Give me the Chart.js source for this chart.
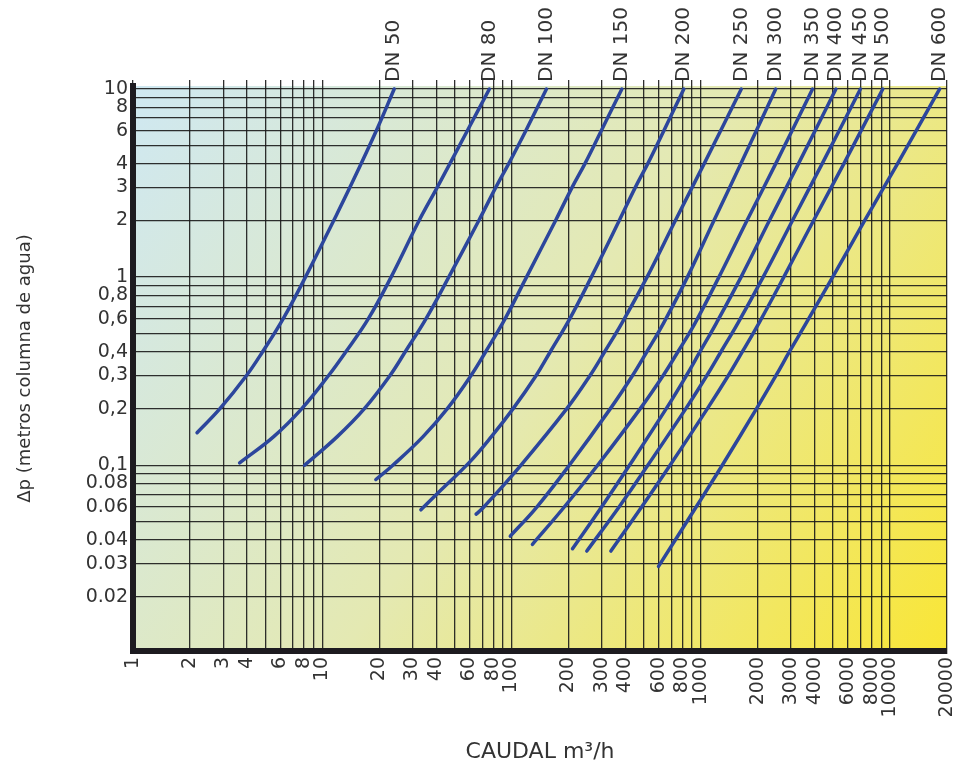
<!DOCTYPE html>
<html>
<head>
<meta charset="utf-8">
<title>Pérdida de carga - caudal</title>
<script src="https://cdn.jsdelivr.net/npm/chart.js@4.4.0/dist/chart.umd.min.js"></script>
<style>
  body { margin: 0; background: #fff; }
  #wrap { width: 953px; height: 774px; }
</style>
</head>
<body>
<div id="wrap"><canvas id="myChart"></canvas></div>
<script>
const dnLabels = ['DN 50', 'DN 80', 'DN 100', 'DN 150', 'DN 200', 'DN 250',
  'DN 300', 'DN 350', 'DN 400', 'DN 450', 'DN 500', 'DN 600'];

// caudal (m3/h) along each curve, from the lower end up to the top
const caudal = [
  [2.18, 2.88, 3.98, 4.83, 6.21, 8.15, 11.5, 14, 19.3, 24],
  [3.66, 5.54, 7.8, 10.8, 13.3, 17.5, 23.1, 32.5, 40.5, 58.4, 76.4],
  [8.06, 12, 16.7, 22.8, 27.4, 35.3, 46.6, 67.2, 82.6, 96.5, 119, 153],
  [19.2, 23.6, 34.1, 45.8, 61.1, 72.9, 92.4, 120, 171, 209, 244, 298, 383],
  [33.2, 40.7, 59.5, 78.3, 102, 135, 160, 203, 264, 371, 451, 524, 638, 814],
  [65, 71.4, 112, 196, 260, 310, 383, 520, 734, 1041, 1638],
  [98.5, 136, 202, 333, 436, 518, 636, 850, 1174, 1628, 2489],
  [129, 190, 285, 479, 633, 756, 933, 1247, 1755, 2486, 3896],
  [210, 299, 420, 657, 840, 989, 1209, 1632, 2305, 3280, 5178],
  [250, 370, 525, 834, 1077, 1276, 1571, 2135, 3052, 4375, 6977],
  [335, 487, 688, 1084, 1399, 1656, 2030, 2745, 3945, 5696, 9158],
  [598, 945, 1299, 1971, 2499, 2936, 3603, 4974, 7352, 10945, 18300]
];

// perdida de carga (m c.a.) matching each caudal value
const perdida = [
  [0.149, 0.2, 0.3, 0.4, 0.6, 1, 2, 3, 6, 10],
  [0.103, 0.142, 0.2, 0.3, 0.4, 0.6, 1, 2, 3, 6, 10],
  [0.1, 0.142, 0.2, 0.3, 0.4, 0.6, 1, 2, 3, 4, 6, 10],
  [0.084, 0.1, 0.142, 0.2, 0.3, 0.4, 0.6, 1, 2, 3, 4, 6, 10],
  [0.058, 0.071, 0.103, 0.142, 0.2, 0.3, 0.4, 0.6, 1, 2, 3, 4, 6, 10],
  [0.055, 0.06, 0.1, 0.2, 0.3, 0.4, 0.57, 1, 2, 4, 10],
  [0.042, 0.06, 0.1, 0.2, 0.3, 0.4, 0.57, 1, 2, 4, 10],
  [0.038, 0.06, 0.1, 0.2, 0.3, 0.4, 0.57, 1, 2, 4, 10],
  [0.036, 0.06, 0.1, 0.2, 0.3, 0.4, 0.57, 1, 2, 4, 10],
  [0.035, 0.06, 0.1, 0.2, 0.3, 0.4, 0.57, 1, 2, 4, 10],
  [0.035, 0.06, 0.1, 0.2, 0.3, 0.4, 0.57, 1, 2, 4, 10],
  [0.029, 0.06, 0.1, 0.2, 0.3, 0.4, 0.57, 1, 2, 4, 10]
];

const xTicks = [1, 2, 3, 4, 6, 8, 10, 20, 30, 40, 60, 80, 100, 200, 300, 400, 600, 800,
  1000, 2000, 3000, 4000, 6000, 8000, 10000, 20000];
const yTicks = [10, 8, 6, 4, 3, 2, 1, 0.8, 0.6, 0.4, 0.3, 0.2, 0.1, 0.08, 0.06, 0.04, 0.03, 0.02];
const yTickText = ['10', '8', '6', '4', '3', '2', '1', '0,8', '0,6', '0,4', '0,3', '0,2', '0,1',
  '0.08', '0.06', '0.04', '0.03', '0.02'];

// grid lines at every 1..9 of each decade
const xGrid = [];
for (let e = 0; e <= 3; e++) for (let m = 1; m <= 9; m++) xGrid.push(+(m * 10 ** e).toPrecision(2));
xGrid.push(10000, 20000);
const yGrid = [];
for (let e = -2; e <= 0; e++) for (let m = (e === -2 ? 2 : 1); m <= 9; m++) yGrid.push(+(m * 10 ** e).toPrecision(2));
yGrid.push(10);

const gridColor = 'rgba(25,25,25,0.9)';
const axisColor = '#1d1b20';
const curveColor = '#2c469c';

Chart.defaults.font.family = '"DejaVu Sans", sans-serif';
Chart.defaults.color = '#333';

const fondo = {
  id: 'fondo',
  beforeDraw(chart) {
    const { ctx, chartArea: a } = chart;
    const g = ctx.createLinearGradient(a.left, a.top, a.right, a.bottom);
    g.addColorStop(0, '#cfe8f2');
    g.addColorStop(0.5, '#e4e9b2');
    g.addColorStop(1, '#f9e636');
    ctx.save();
    ctx.fillStyle = g;
    ctx.fillRect(a.left, a.top, a.right - a.left, a.bottom - a.top);
    ctx.restore();
  }
};

const rotulos = {
  id: 'rotulos',
  afterDraw(chart) {
    const { ctx, chartArea } = chart;
    ctx.save();
    ctx.font = '20px "DejaVu Sans"';
    ctx.fillStyle = '#333';
    ctx.textAlign = 'left';
    ctx.textBaseline = 'middle';
    chart.data.datasets.forEach((ds, i) => {
      const pts = chart.getDatasetMeta(i).data;
      const p = pts[pts.length - 1];
      ctx.save();
      ctx.translate(p.x, chartArea.top - 4);
      ctx.rotate(-Math.PI / 2);
      ctx.fillText(ds.label, 0, 0);
      ctx.restore();
    });
    ctx.restore();
  }
};

// keep the plot edges fixed: no extra side padding for the rotated end labels
const sinMargen = s => { s.paddingLeft = 0; s.paddingRight = 0; };

const ctx = document.getElementById('myChart').getContext('2d');
const chart = new Chart(ctx, {
  type: 'line',
  data: {
    datasets: dnLabels.map((lab, i) => ({
      label: lab,
      data: caudal[i].map((q, j) => ({ x: q, y: perdida[i][j] })),
      borderColor: curveColor,
      borderWidth: 3.5,
      borderCapStyle: 'round',
      pointRadius: 0,
      tension: 0.4,
      fill: false
    }))
  },
  options: {
    responsive: true,
    maintainAspectRatio: false,
    animation: false,
    layout: { padding: { top: 80, right: 6, bottom: 0, left: 0 } },
    plugins: { legend: { display: false }, tooltip: { enabled: false } },
    scales: {
      x: {
        type: 'logarithmic',
        min: 1,
        max: 20000,
        afterBuildTicks: s => { s.ticks = xGrid.map(v => ({ value: v })); },
        afterFit: s => { s.height = 123; sinMargen(s); },
        grid: { color: gridColor, lineWidth: 1.3, drawTicks: false },
        border: { color: axisColor, width: 6 },
        ticks: {
          autoSkip: false,
          minRotation: 90,
          maxRotation: 90,
          padding: 6,
          font: { size: 19 },
          callback: v => xTicks.includes(v) ? String(v) : ''
        },
        title: {
          display: true,
          text: 'CAUDAL m³/h',
          font: { size: 22 },
          padding: { top: 4, bottom: 9 }
        }
      },
      xTop: {
        type: 'logarithmic',
        position: 'top',
        min: 1,
        max: 20000,
        afterBuildTicks: s => { s.ticks = xGrid.map(v => ({ value: v })); },
        afterFit: sinMargen,
        grid: { color: gridColor, lineWidth: 1.3, drawOnChartArea: false, drawTicks: true, tickLength: 6 },
        border: { display: false },
        ticks: { display: false }
      },
      y: {
        type: 'logarithmic',
        min: 0.0103,
        max: 10.37,
        afterBuildTicks: s => { s.ticks = yGrid.map(v => ({ value: v })); },
        afterFit: s => { s.width = 133; },
        grid: { color: gridColor, lineWidth: 1.3, drawTicks: false },
        border: { color: axisColor, width: 6 },
        ticks: {
          autoSkip: false,
          padding: 5,
          font: { size: 19 },
          callback: v => {
            const k = yTicks.indexOf(v);
            return k >= 0 ? yTickText[k] : '';
          }
        },
        title: {
          display: true,
          text: 'Δp (metros columna de agua)',
          font: { size: 18 },
          padding: { top: 15, bottom: 0 }
        }
      }
    }
  },
  plugins: [fondo, rotulos]
});
</script>
</body>
</html>
